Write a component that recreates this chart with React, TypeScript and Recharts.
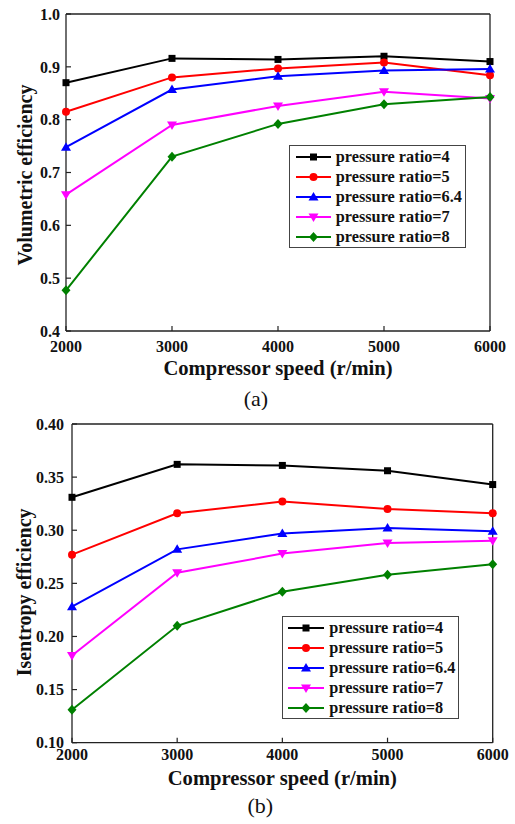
import { LineChart, Line, XAxis, YAxis, Legend, Label } from "recharts";

const FONT = '"Liberation Serif", "Times New Roman", serif';

// compressor speed, r/min
const speeds = [2000, 3000, 4000, 5000, 6000];

// (a) volumetric efficiency
const volPr4 = [0.87, 0.916, 0.914, 0.92, 0.91];
const volPr5 = [0.815, 0.88, 0.897, 0.908, 0.884];
const volPr64 = [0.748, 0.857, 0.882, 0.893, 0.896];
const volPr7 = [0.658, 0.79, 0.826, 0.853, 0.84];
const volPr8 = [0.477, 0.73, 0.792, 0.829, 0.843];
const volTicks = [0.4, 0.5, 0.6, 0.7, 0.8, 0.9, 1.0];

// (b) isentropy efficiency
const isenPr4 = [0.331, 0.362, 0.361, 0.356, 0.343];
const isenPr5 = [0.277, 0.316, 0.327, 0.32, 0.316];
const isenPr64 = [0.228, 0.282, 0.297, 0.302, 0.299];
const isenPr7 = [0.182, 0.26, 0.278, 0.288, 0.29];
const isenPr8 = [0.131, 0.21, 0.242, 0.258, 0.268];
const isenTicks = [0.1, 0.15, 0.2, 0.25, 0.3, 0.35, 0.4];

const seriesKeys = ["pr4", "pr5", "pr64", "pr7", "pr8"];
const seriesNames = [
  "pressure ratio=4",
  "pressure ratio=5",
  "pressure ratio=6.4",
  "pressure ratio=7",
  "pressure ratio=8",
];
const seriesColors = ["#000000", "#ff0000", "#0000ff", "#ff00ff", "#008000"];
const seriesMarkers = ["square", "circle", "triangle", "triangleDown", "diamond"];

function buildRows(values: number[][]) {
  return speeds.map((speed, i) => {
    const row: Record<string, number> = { speed };
    seriesKeys.forEach((k, s) => {
      row[k] = values[s][i];
    });
    return row;
  });
}

function Marker({ shape, cx, cy, color }: { shape: string; cx: number; cy: number; color: string }) {
  if (shape === "square") return <rect x={cx - 3.5} y={cy - 3.5} width={7} height={7} fill={color} />;
  if (shape === "circle") return <circle cx={cx} cy={cy} r={4} fill={color} />;
  if (shape === "triangle")
    return <polygon points={`${cx},${cy - 5} ${cx + 5},${cy + 3.5} ${cx - 5},${cy + 3.5}`} fill={color} />;
  if (shape === "triangleDown")
    return <polygon points={`${cx},${cy + 5} ${cx + 5},${cy - 3.5} ${cx - 5},${cy - 3.5}`} fill={color} />;
  return <polygon points={`${cx},${cy - 5} ${cx + 4.5},${cy} ${cx},${cy + 5} ${cx - 4.5},${cy}`} fill={color} />;
}

function LegendBox({ inset, lineW, gap }: { inset: number; lineW: number; gap: number }) {
  return (
    <div
      style={{
        display: "inline-block",
        border: "1px solid #444",
        background: "#fff",
        padding: `1px 3px 0 ${inset}px`,
      }}
    >
      {seriesNames.map((name, i) => (
        <div key={name} style={{ display: "flex", alignItems: "center", height: 20 }}>
          <svg width={lineW} height={12} style={{ display: "block", flexShrink: 0 }}>
            <line x1={0} y1={6} x2={lineW} y2={6} stroke={seriesColors[i]} strokeWidth={2} />
            <Marker shape={seriesMarkers[i]} cx={lineW / 2} cy={6} color={seriesColors[i]} />
          </svg>
          <span
            style={{
              marginLeft: gap,
              fontFamily: FONT,
              fontWeight: "bold",
              fontSize: 16.3,
              color: "#111",
              whiteSpace: "nowrap",
              lineHeight: "20px",
            }}
          >
            {name}
          </span>
        </div>
      ))}
    </div>
  );
}

type PanelProps = {
  rows: Record<string, number>[];
  yTicks: number[];
  digits: number;
  yTitle: string;
  caption: string;
  top: number;
  height: number;
  margin: { top: number; right: number; bottom: number; left: number };
  yAxisWidth: number;
  xTickMargin: number;
  yTickMargin: number;
  yTitleShift: number;
  titleDrop: number;
  captionDrop: number;
  legend: { left: number; top: number; inset: number; lineW: number; gap: number };
};

function Panel(p: PanelProps) {
  const tickStyle = { fill: "#111", fontSize: 16, fontWeight: "bold", fontFamily: FONT };
  const axisLine = { stroke: "#222", strokeWidth: 1.3 };
  const tickLine = { stroke: "#222", strokeWidth: 1.2 };
  const yDomain = [p.yTicks[0], p.yTicks[p.yTicks.length - 1]];

  return (
    <div style={{ position: "absolute", left: 0, top: p.top }}>
      <LineChart width={515} height={p.height} data={p.rows} margin={p.margin} style={{ fontFamily: FONT }}>
        <XAxis
          dataKey="speed"
          type="number"
          domain={[2000, 6000]}
          ticks={speeds}
          height={20}
          axisLine={axisLine}
          tickLine={tickLine}
          tickSize={-5}
          tickMargin={p.xTickMargin}
          tick={tickStyle}
          interval={0}
        >
          <Label
            content={({ viewBox }: any) => {
              const cx = viewBox.x + viewBox.width / 2;
              return (
                <g>
                  <text
                    x={cx}
                    y={viewBox.y + p.titleDrop}
                    textAnchor="middle"
                    fill="#111"
                    fontFamily={FONT}
                    fontWeight="bold"
                    fontSize={20.6}
                  >
                    Compressor speed (r/min)
                  </text>
                  <text
                    x={cx - 22}
                    y={viewBox.y + p.captionDrop}
                    textAnchor="middle"
                    fill="#111"
                    fontFamily={FONT}
                    fontSize={22}
                  >
                    {p.caption}
                  </text>
                </g>
              );
            }}
          />
        </XAxis>
        <XAxis
          xAxisId="top"
          orientation="top"
          dataKey="speed"
          type="number"
          domain={[2000, 6000]}
          ticks={speeds}
          height={1}
          axisLine={axisLine}
          tickLine={tickLine}
          tickSize={-5}
          tick={false}
          interval={0}
        />
        <YAxis
          type="number"
          domain={yDomain}
          ticks={p.yTicks}
          width={p.yAxisWidth}
          axisLine={axisLine}
          tickLine={tickLine}
          tickSize={-5}
          tickMargin={p.yTickMargin}
          tick={tickStyle}
          tickFormatter={(v: number) => v.toFixed(p.digits)}
          interval={0}
        >
          <Label
            content={({ viewBox }: any) => {
              const x = 24.5;
              const y = viewBox.y + viewBox.height / 2 + p.yTitleShift;
              return (
                <text
                  x={x}
                  y={y}
                  dy="0.35em"
                  textAnchor="middle"
                  transform={`rotate(-90, ${x}, ${y})`}
                  fill="#111"
                  fontFamily={FONT}
                  fontWeight="bold"
                  fontSize={20}
                >
                  {p.yTitle}
                </text>
              );
            }}
          />
        </YAxis>
        <YAxis
          yAxisId="right"
          orientation="right"
          type="number"
          domain={yDomain}
          ticks={p.yTicks}
          width={1}
          axisLine={axisLine}
          tickLine={tickLine}
          tickSize={-5}
          tick={false}
          interval={0}
        />
        {seriesKeys.map((key, i) => (
          <Line
            key={key}
            dataKey={key}
            name={seriesNames[i]}
            type="linear"
            stroke={seriesColors[i]}
            strokeWidth={2}
            isAnimationActive={false}
            dot={(d: any) => (
              <Marker
                key={`${key}-${d.index}`}
                shape={seriesMarkers[i]}
                cx={d.cx}
                cy={d.cy}
                color={seriesColors[i]}
              />
            )}
            activeDot={false}
          />
        ))}
        <Legend
          layout="vertical"
          align="center"
          verticalAlign="middle"
          wrapperStyle={{ left: p.legend.left, top: p.legend.top, width: "auto" }}
          content={() => <LegendBox inset={p.legend.inset} lineW={p.legend.lineW} gap={p.legend.gap} />}
        />
      </LineChart>
    </div>
  );
}

export default function App() {
  const volRows = buildRows([volPr4, volPr5, volPr64, volPr7, volPr8]);
  const isenRows = buildRows([isenPr4, isenPr5, isenPr64, isenPr7, isenPr8]);

  return (
    <div style={{ position: "absolute", left: 0, top: 0, width: 515, height: 824, background: "#fff" }}>
      <Panel
        rows={volRows}
        yTicks={volTicks}
        digits={1}
        yTitle="Volumetric efficiency"
        caption="(a)"
        top={0}
        height={410}
        margin={{ top: 13, right: 24, bottom: 59, left: 0 }}
        yAxisWidth={66}
        xTickMargin={14.5}
        yTickMargin={11}
        yTitleShift={2.5}
        titleDrop={44}
        captionDrop={75}
        legend={{ left: 288.7, top: 145.3, inset: 6, lineW: 35, gap: 5 }}
      />
      <Panel
        rows={isenRows}
        yTicks={isenTicks}
        digits={2}
        yTitle="Isentropy efficiency"
        caption="(b)"
        top={410}
        height={414}
        margin={{ top: 13, right: 21.3, bottom: 61.3, left: 0 }}
        yAxisWidth={72}
        xTickMargin={11}
        yTickMargin={13}
        yTitleShift={9}
        titleDrop={42.3}
        captionDrop={70}
        legend={{ left: 281.7, top: 205.7, inset: 5.5, lineW: 36, gap: 5 }}
      />
    </div>
  );
}
